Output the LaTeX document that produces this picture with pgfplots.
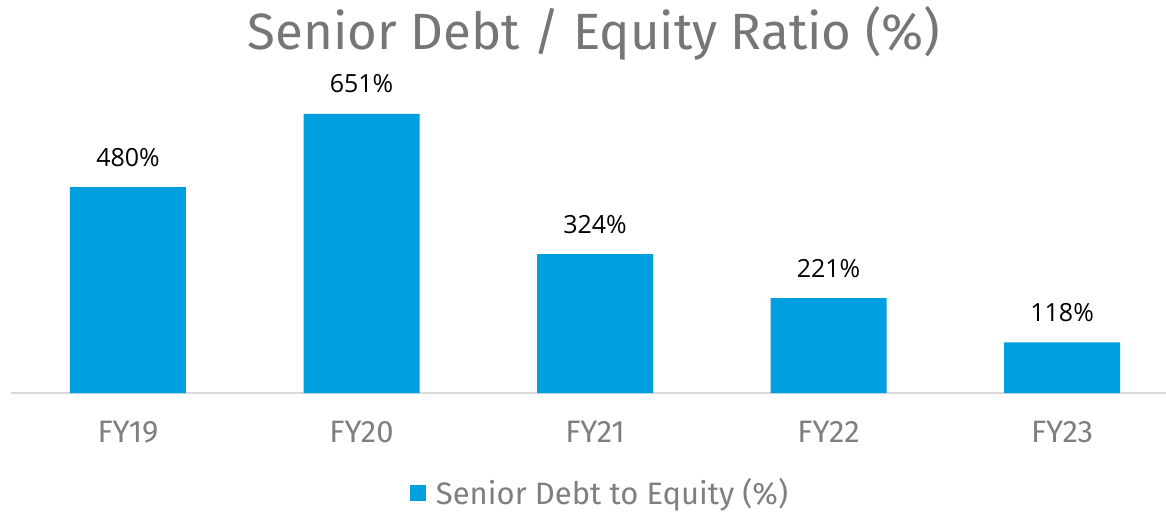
\documentclass[border=0pt]{standalone}
\usepackage{pgfplots}
\pgfplotsset{compat=1.18}
\usepackage{fontspec}
\setmainfont{Fira Sans}
\newfontfamily\labfont{Open Sans}
\definecolor{barblue}{HTML}{00A0E0}
\definecolor{titlegray}{HTML}{767676}
\definecolor{tickgray}{HTML}{7F7F7F}
\definecolor{axisgray}{HTML}{D9D9D9}
\begin{document}
\begin{tikzpicture}[x=1pt,y=1pt]
\useasboundingbox (0,0) rectangle (1166,512);
\node[anchor=base, text=titlegray, font=\fontsize{51}{60}\selectfont] at (594,512-50) {Senior Debt / Equity Ratio (\%)};
\begin{axis}[
  at={(11pt,119pt)}, anchor=south west,
  scale only axis, width=1155pt, height=313pt,
  xmin=-0.501, xmax=4.445, ymin=0, ymax=730,
  axis x line*=bottom, axis y line=none,
  x axis line style={draw=axisgray, line width=2pt, -},
  xtick=data, xticklabels={FY19,FY20,FY21,FY22,FY23},
  major tick length=0pt,
  xticklabel style={text=tickgray, font=\fontsize{31}{36}\selectfont, anchor=base, yshift=-49pt},
  ybar, bar width=116pt,
  /pgf/number format/assume math mode=true,
  nodes near coords={\pgfmathprintnumber{\pgfplotspointmeta}\%},
  nodes near coords style={text=black, font=\labfont\fontsize{25}{30}\selectfont, anchor=base, yshift=21pt},
  point meta=explicit,
  legend style={at={(0.51,-0.318)}, anchor=center, draw=none, fill=none, inner sep=0pt,
    font=\fontsize{31}{34}\selectfont, text=tickgray, legend cell align=left,
    /tikz/every odd column/.append style={column sep=8pt}},
  legend image code/.code={\fill[barblue] (0pt,-8pt) rectangle (16pt,8pt);},
]
\addplot[fill=barblue, draw=none] coordinates {(0,480)[480] (1,651)[651] (2,324)[324] (3,221)[221] (4,118)[118]};
\addlegendentry{Senior Debt to Equity (\%)}
\end{axis}
\end{tikzpicture}
\end{document}
